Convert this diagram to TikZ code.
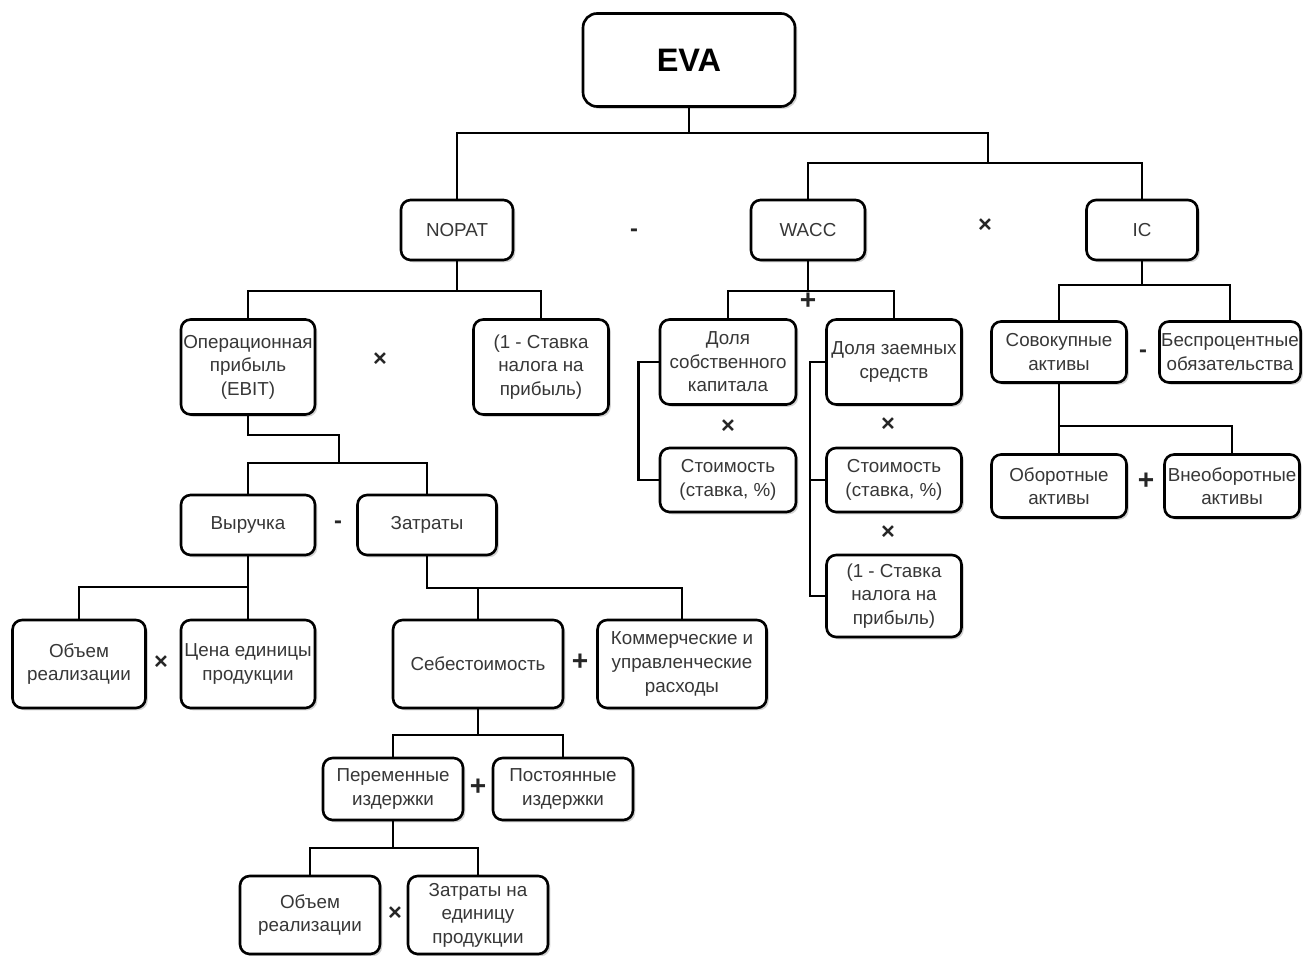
\documentclass[tikz,border=0pt]{standalone}
\usepackage{fontspec}
\setmainfont{Liberation Sans}
\usetikzlibrary{shadows}
\definecolor{txt}{RGB}{55,55,55}
\begin{document}
\begin{tikzpicture}[x=0.02cm,y=-0.02cm,
  box/.style={draw=black, line width=1.5pt, rounded corners=5.5pt, fill=white,
    drop shadow={shadow xshift=1.3pt, shadow yshift=-1.3pt, opacity=0.35},
    align=center, inner xsep=1pt, inner ysep=1pt, text=txt,
    font=\fontsize{10.7}{13.4}\selectfont},
  conn/.style={draw=black, line width=1.4pt, line join=miter},
  op/.style={font=\fontsize{13.5}{14}\selectfont\bfseries, text=black!85, inner sep=0pt},
  mop/.style={fill=black!85, minimum width=6pt, minimum height=3.2pt, inner sep=0pt}
]
\useasboundingbox (0,0) rectangle (1313,956);

% nodes
\node[box, rounded corners=8pt, minimum width=4.24cm, minimum height=1.86cm,
      font=\fontsize{18.5}{22}\selectfont\bfseries, text=black] (eva) at (689,60) {EVA};
\node[box, minimum width=2.24cm, minimum height=1.2cm] (nopat) at (457,230) {NOPAT};
\node[box, minimum width=2.28cm, minimum height=1.2cm] (wacc) at (808,230) {WACC};
\node[box, minimum width=2.22cm, minimum height=1.2cm] (ic) at (1142,230) {IC};

\node[box, minimum width=2.68cm, minimum height=1.9cm] (ebit) at (248,367) {Операционная\\прибыль\\(EBIT)};
\node[box, minimum width=2.7cm, minimum height=1.9cm] (tax1) at (541,367) {(1 - Ставка\\налога на\\прибыль)};

\node[box, minimum width=2.68cm, minimum height=1.2cm] (rev) at (248,525) {Выручка};
\node[box, minimum width=2.78cm, minimum height=1.2cm] (cost) at (427,525) {Затраты};

\node[box, minimum width=2.66cm, minimum height=1.76cm] (vol1) at (79,664) {Объем\\реализации};
\node[box, minimum width=2.68cm, minimum height=1.76cm] (price) at (248,664) {Цена единицы\\продукции};
\node[box, minimum width=3.4cm, minimum height=1.76cm] (selfc) at (478,664) {Себестоимость};
\node[box, minimum width=3.38cm, minimum height=1.76cm] (comm) at (682,664) {Коммерческие и\\управленческие\\расходы};

\node[box, minimum width=2.8cm, minimum height=1.24cm] (var) at (393,789) {Переменные\\издержки};
\node[box, minimum width=2.8cm, minimum height=1.24cm] (fix) at (563,789) {Постоянные\\издержки};

\node[box, minimum width=2.8cm, minimum height=1.56cm] (vol2) at (310,915) {Объем\\реализации};
\node[box, minimum width=2.8cm, minimum height=1.56cm] (unit) at (478,915) {Затраты на\\единицу\\продукции};

\node[box, minimum width=2.72cm, minimum height=1.7cm] (dsk) at (728,362) {Доля\\собственного\\капитала};
\node[box, minimum width=2.7cm, minimum height=1.7cm] (dzs) at (894,362) {Доля заемных\\средств};
\node[box, minimum width=2.72cm, minimum height=1.28cm] (st1) at (728,480) {Стоимость\\(ставка, \%)};
\node[box, minimum width=2.7cm, minimum height=1.28cm] (st2) at (894,480) {Стоимость\\(ставка, \%)};
\node[box, minimum width=2.7cm, minimum height=1.64cm] (tax2) at (894,596) {(1 - Ставка\\налога на\\прибыль)};

\node[box, minimum width=2.7cm, minimum height=1.22cm] (tot) at (1059,352) {Совокупные\\активы};
\node[box, minimum width=2.8cm, minimum height=1.22cm] (nonint) at (1230,352) {Беспроцентные\\обязательства};
\node[box, minimum width=2.7cm, minimum height=1.26cm] (cur) at (1059,486) {Оборотные\\активы};
\node[box, minimum width=2.7cm, minimum height=1.26cm] (noncur) at (1232,486) {Внеоборотные\\активы};

% operators
\node[op] (o1) at (634,233) {-};
\node[op] (o2) at (985,226) {×};
\node[op] (o3) at (380,360) {×};
\node[op] (o4) at (338,525) {-};
\node[op] (o5) at (161,663) {×};
\node[op, font=\fontsize{16}{16}\selectfont\bfseries] (o6) at (580,662) {+};
\node[op, font=\fontsize{16}{16}\selectfont\bfseries] (o7) at (478,787) {+};
\node[op] (o8) at (395,914) {×};
\node[op, font=\fontsize{16}{16}\selectfont\bfseries] (o9) at (808,301) {+};
\node[op] (o10) at (728,427) {×};
\node[op] (o11) at (888,425) {×};
\node[op] (o12) at (888,533) {×};
\node[op] (o13) at (1143,354) {-};
\node[op, font=\fontsize{16}{16}\selectfont\bfseries] (o14) at (1146,481) {+};

% junctions
\coordinate (jE) at (689,133);
\coordinate (jR) at (988,133);
\coordinate (jR2) at (988,163);
\coordinate (jN) at (457,291);
\coordinate (jB2) at (339,435);
\coordinate (jB3) at (339,463);
\coordinate (jV) at (248,587);
\coordinate (jZ) at (427,588);
\coordinate (jZ2) at (682,588);
\coordinate (jS) at (478,735);
\coordinate (jP) at (393,848);
\coordinate (jW) at (808,291);
\coordinate (jI) at (1142,285);
\coordinate (jC) at (1059,426);

% connectors
\begin{scope}[conn]
\draw (eva.south) -- (jE);
\draw (nopat.north) |- (jR) -- (jR2);
\draw (wacc.north) |- (jR2) -| (ic.north);

\draw (nopat.south) -- (jN);
\draw (ebit.north) |- (jN) -| (tax1.north);

\draw (ebit.south) |- (jB2) -- (jB3);
\draw (rev.north) |- (jB3) -| (cost.north);

\draw (rev.south) -- (price.north);
\draw (vol1.north) |- (jV);

\draw (cost.south) |- (jZ2) -- (comm.north);
\draw (selfc.north) -- (selfc.north |- jZ);

\draw (selfc.south) -- (jS);
\draw (var.north) |- (jS) -| (fix.north);

\draw (var.south) -- (jP);
\draw (vol2.north) |- (jP) -| (unit.north);

\draw (wacc.south) -- (jW);
\draw (dsk.north) |- (jW) -| (dzs.north);
\draw (dsk.west) -- ++(-20,0) |- (st1.west);
\draw (dzs.west) -- ++(-15,0) |- (tax2.west);
\draw (st2.west) -- ++(-15,0);

\draw (ic.south) -- (jI);
\draw (tot.north) |- (jI) -| (nonint.north);
\draw (tot.south) -- (cur.north);
\draw (noncur.north) |- (jC);
\end{scope}
\end{tikzpicture}
\end{document}
